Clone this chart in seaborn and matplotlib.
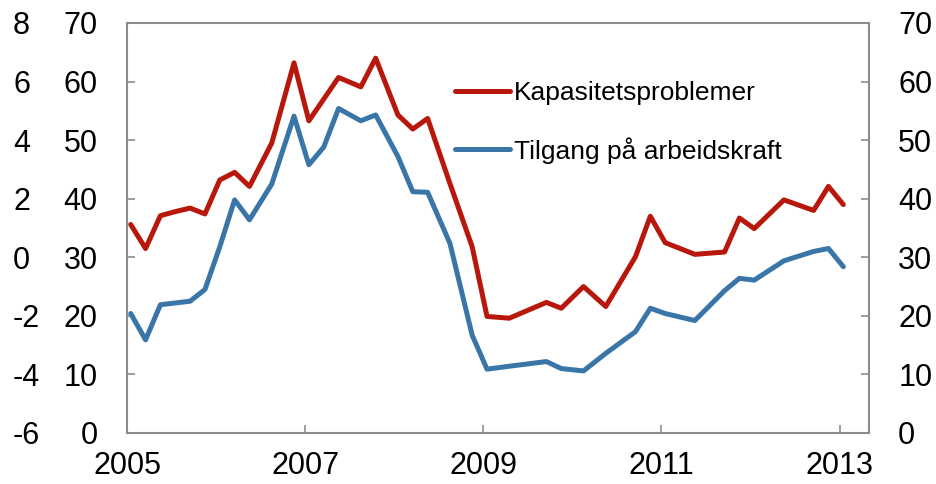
import numpy as np
import pandas as pd
import matplotlib
matplotlib.use("Agg")
import matplotlib.pyplot as plt
import seaborn as sns

# ---- data ----
dates = ["2005-01", "2005-03", "2005-05", "2005-07", "2005-09", "2005-11",
         "2006-01", "2006-03", "2006-05", "2006-08", "2006-11",
         "2007-01", "2007-03", "2007-05", "2007-08", "2007-10",
         "2008-01", "2008-03", "2008-05", "2008-08", "2008-11",
         "2009-01", "2009-04", "2009-09", "2009-11",
         "2010-02", "2010-05", "2010-09", "2010-11",
         "2011-01", "2011-05", "2011-09", "2011-11",
         "2012-01", "2012-05", "2012-09", "2012-11",
         "2013-01"]

kapasitet = [35.6, 31.5, 37.1, 37.8, 38.4, 37.4,
             43.2, 44.5, 42.1, 49.5, 63.2,
             53.3, 57.0, 60.7, 59.1, 64.0,
             54.3, 51.9, 53.7, 42.6, 31.8,
             19.9, 19.6, 22.3, 21.3,
             25.0, 21.6, 30.1, 37.0,
             32.5, 30.5, 30.9, 36.7,
             34.9, 39.8, 38.0, 42.1,
             39.0]

arbeidskraft = [20.4, 15.9, 21.9, 22.2, 22.5, 24.5,
                31.8, 39.8, 36.4, 42.5, 54.1,
                45.8, 48.8, 55.4, 53.3, 54.3,
                47.2, 41.2, 41.1, 32.4, 16.7,
                10.9, 11.4, 12.2, 11.0,
                10.6, 13.6, 17.3, 21.3,
                20.4, 19.2, 24.3, 26.4,
                26.1, 29.4, 31.0, 31.5,
                28.4]

series_names = ["Kapasitetsproblemer", "Tilgang på arbeidskraft"]
colors = ["#B8170C", "#3A75A8"]
x_tick_years = [2005, 2007, 2009, 2011, 2013]
y_ticks = [0, 10, 20, 30, 40, 50, 60, 70]
y_ticks_outer = [-6, -4, -2, 0, 2, 4, 6, 8]

# ---- build table ----
def to_year(d):
    y, m = d.split("-")
    return int(y) + (int(m) - 0.5) / 12.0

xvals = [to_year(d) for d in dates]
df = pd.concat([
    pd.DataFrame({"x": xvals, "value": kapasitet, "serie": series_names[0]}),
    pd.DataFrame({"x": xvals, "value": arbeidskraft, "serie": series_names[1]}),
])

sns.set_style("white")
plt.rcParams["font.family"] = ["Liberation Sans", "DejaVu Sans"]
plt.rcParams["axes.unicode_minus"] = False
plt.rcParams["text.color"] = "black"

fig = plt.figure(figsize=(9.37, 4.84), dpi=100)
ax = fig.add_axes([127 / 937, 1 - 433 / 484, (869 - 127) / 937, (433 - 23) / 484])

sns.lineplot(data=df, x="x", y="value", hue="serie", hue_order=series_names,
             palette=colors, linewidth=3.6, ax=ax, sort=False,
             solid_capstyle="round", solid_joinstyle="round")

ax.set_xlim(2005, 2013.33)
ax.set_ylim(0, 70)
ax.set_xlabel("")
ax.set_ylabel("")
ax.set_xticks(x_tick_years)
ax.set_xticklabels([str(y) for y in x_tick_years])
ax.set_yticks(y_ticks)

spine_col = "#8C8C8C"
for s in ax.spines.values():
    s.set_visible(True)
    s.set_color(spine_col)
    s.set_linewidth(1.5)

tick_fs = 22
ax.tick_params(axis="both", direction="in", length=6, width=1.2, color=spine_col,
               labelsize=tick_fs, labelcolor="black")
ax.tick_params(axis="y", pad=21, left=True, right=True, labelleft=True, labelright=True)
ax.tick_params(axis="x", pad=13, bottom=True)

# outer left axis (-6..8), same scale transformed
sec = ax.secondary_yaxis("left", functions=(lambda v: (v - 30) / 5.0, lambda u: u * 5.0 + 30))
sec.set_yticks(y_ticks_outer)
sec.set_yticklabels([str(v) for v in y_ticks_outer])
sec.spines["left"].set_visible(False)
sec.tick_params(axis="y", length=0, pad=82, labelsize=tick_fs, labelcolor="black")
for lbl in sec.get_yticklabels():
    lbl.set_horizontalalignment("left")

leg = ax.legend(loc="upper left", bbox_to_anchor=(0.442, 0.858), frameon=False,
                fontsize=19, handlelength=2.1, handletextpad=0.15,
                labelspacing=1.2, borderpad=0, borderaxespad=0)
for h in leg.get_lines():
    h.set_linewidth(3.6)
    h.set_solid_capstyle("round")
for t in leg.get_texts():
    t.set_color("black")

fig.savefig("out.png", dpi=100)
